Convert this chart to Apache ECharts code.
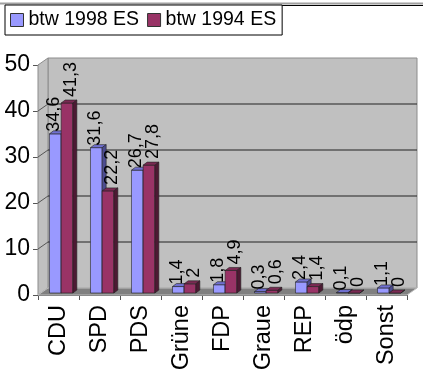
<!DOCTYPE html>
<html>
<head>
<meta charset="utf-8">
<script src="https://cdn.jsdelivr.net/npm/echarts@6/dist/echarts.min.js"></script>
<style>
  html, body { margin: 0; padding: 0; background: #fff; }
  #chart { width: 423px; height: 376px; }
</style>
</head>
<body>
<div id="chart"></div>
<script>
// Daten
const categories = ['CDU', 'SPD', 'PDS', 'Grüne', 'FDP', 'Graue', 'REP', 'ödp', 'Sonst'];
const btw1998 = [34.6, 31.6, 26.7, 1.4, 1.8, 0.3, 2.4, 0.1, 1.1];
const btw1994 = [41.3, 22.2, 27.8, 2, 4.9, 0.6, 1.4, 0, 0];
const yTicks = [0, 10, 20, 30, 40, 50];

const FONT = 'Liberation Sans, Arial, sans-serif';
const DX = 10, DY = -7;   // Tiefe der Wände
const BD = 4, BDY = -3;   // Tiefe der Balken

const styles = [
  { face: '#9999FF', top: '#7070D0', side: '#4C4C90', dx: -1, dy: -2 },
  { face: '#993366', top: '#7A2952', side: '#4D1933', dx: 4, dy: -6 }
];

const chart = echarts.init(document.getElementById('chart'));

function fmt(v) {
  return String(v).replace('.', ',');
}

// Rückwand, Seitenwand, Boden
function renderWalls(params, api) {
  const bw = api.size([1, 0])[0];
  const n = categories.length;
  const xs = api.coord([0, 0])[0] - bw / 2;
  const xe = api.coord([n - 1, 0])[0] + bw / 2;
  const y0 = api.coord([0, yTicks[0]])[1];
  const yTop = api.coord([0, yTicks[yTicks.length - 1]])[1];
  const children = [
    {
      type: 'rect',
      shape: { x: xs + DX, y: yTop + DY, width: xe - xs, height: y0 - yTop },
      style: { fill: '#C0C0C0', stroke: '#8C8C8C', lineWidth: 1 }
    },
    {
      type: 'polygon',
      shape: { points: [[xs, y0], [xs, yTop], [xs + DX, yTop + DY], [xs + DX, y0 + DY]] },
      style: { fill: '#C0C0C0', stroke: '#8C8C8C', lineWidth: 1 }
    },
    {
      type: 'polygon',
      shape: { points: [[xs, y0], [xs + DX, y0 + DY], [xe + DX, y0 + DY], [xe, y0]] },
      style: { fill: '#808080', stroke: '#C0C0C0', lineWidth: 1 }
    }
  ];
  yTicks.slice(1, -1).forEach(function (t) {
    const y = api.coord([0, t])[1];
    children.push({
      type: 'line',
      shape: { x1: xs + DX, y1: y + DY, x2: xe + DX, y2: y + DY },
      style: { stroke: '#222', lineWidth: 1 }
    });
    children.push({
      type: 'line',
      shape: { x1: xs, y1: y, x2: xs + DX, y2: y + DY },
      style: { stroke: '#555', lineWidth: 1 }
    });
  });
  return { type: 'group', children: children };
}

// 3D-Balken mit Beschriftung
function barRenderer(si) {
  const st = styles[si];
  return function (params, api) {
    const idx = api.value(0);
    const val = api.value(1);
    const bw = api.size([1, 0])[0];
    const c = api.coord([idx, val]);
    const base = api.coord([idx, 0]);
    const w = bw * 0.285;
    const x0 = c[0] - bw * 0.22 + si * w;
    const yt = c[1] - 2;
    const yb = base[1] - 2;
    return {
      type: 'group',
      children: [
        {
          type: 'rect',
          shape: { x: x0, y: yt, width: w, height: yb - yt },
          style: { fill: st.face, stroke: '#222', lineWidth: 0.6 }
        },
        {
          type: 'polygon',
          shape: { points: [[x0, yt], [x0 + BD, yt + BDY], [x0 + w + BD, yt + BDY], [x0 + w, yt]] },
          style: { fill: st.top, stroke: '#222', lineWidth: 0.6 }
        },
        {
          type: 'polygon',
          shape: { points: [[x0 + w, yt], [x0 + w + BD, yt + BDY], [x0 + w + BD, yb + BDY], [x0 + w, yb]] },
          style: { fill: st.side, stroke: '#222', lineWidth: 0.6 }
        },
        {
          type: 'text',
          x: x0 + w / 2 + st.dx,
          y: yt + st.dy,
          rotation: Math.PI / 2,
          style: {
            text: fmt(val),
            fill: '#000',
            fontSize: 18,
            fontFamily: FONT,
            align: 'left',
            verticalAlign: 'middle'
          }
        }
      ]
    };
  };
}

chart.setOption({
  animation: false,
  backgroundColor: '#fff',
  textStyle: { fontFamily: FONT },
  graphic: [
    { type: 'line', shape: { x1: 0, y1: 3.5, x2: 423, y2: 3.5 }, style: { stroke: '#A0A0A0', lineWidth: 2 } },
    { type: 'line', shape: { x1: 5, y1: 5.5, x2: 423, y2: 5.5 }, style: { stroke: '#000', lineWidth: 1 } }
  ],
  legend: {
    left: 5,
    top: 5,
    padding: [5, 6, 5, 5],
    itemGap: 8,
    itemWidth: 13,
    itemHeight: 13,
    icon: 'rect',
    borderColor: '#000',
    borderWidth: 1,
    backgroundColor: '#fff',
    itemStyle: { borderColor: '#333', borderWidth: 1 },
    textStyle: { fontSize: 19.5, color: '#000', fontFamily: FONT, lineHeight: 20 },
    data: ['btw 1998 ES', 'btw 1994 ES']
  },
  grid: {
    left: 38,
    right: 16,
    top: 65,
    bottom: 81,
    outerBoundsMode: 'none'
  },
  xAxis: {
    type: 'category',
    data: categories,
    boundaryGap: true,
    axisLine: { lineStyle: { color: '#555' } },
    axisTick: { show: true, length: 5, lineStyle: { color: '#555' } },
    axisLabel: {
      rotate: 90,
      margin: 10,
      fontSize: 23.5,
      color: '#000',
      fontFamily: FONT,
      interval: 0,
      padding: [0, 0, 4, 0]
    }
  },
  yAxis: {
    type: 'value',
    min: 0,
    max: 50,
    interval: 10,
    axisLine: { show: true, lineStyle: { color: '#555' } },
    axisTick: { show: true, length: 5, lineStyle: { color: '#555' } },
    axisLabel: { fontSize: 23, color: '#000', margin: 8, fontFamily: FONT },
    splitLine: { show: false }
  },
  series: [
    {
      name: 'walls',
      type: 'custom',
      silent: true,
      clip: false,
      z: 1,
      renderItem: renderWalls,
      data: [[0, 0]]
    },
    {
      name: 'btw 1998 ES',
      type: 'custom',
      clip: false,
      z: 2,
      itemStyle: { color: '#9999FF' },
      renderItem: barRenderer(0),
      data: btw1998.map(function (v, i) { return [i, v]; })
    },
    {
      name: 'btw 1994 ES',
      type: 'custom',
      clip: false,
      z: 3,
      itemStyle: { color: '#993366' },
      renderItem: barRenderer(1),
      data: btw1994.map(function (v, i) { return [i, v]; })
    }
  ]
});
</script>
</body>
</html>
